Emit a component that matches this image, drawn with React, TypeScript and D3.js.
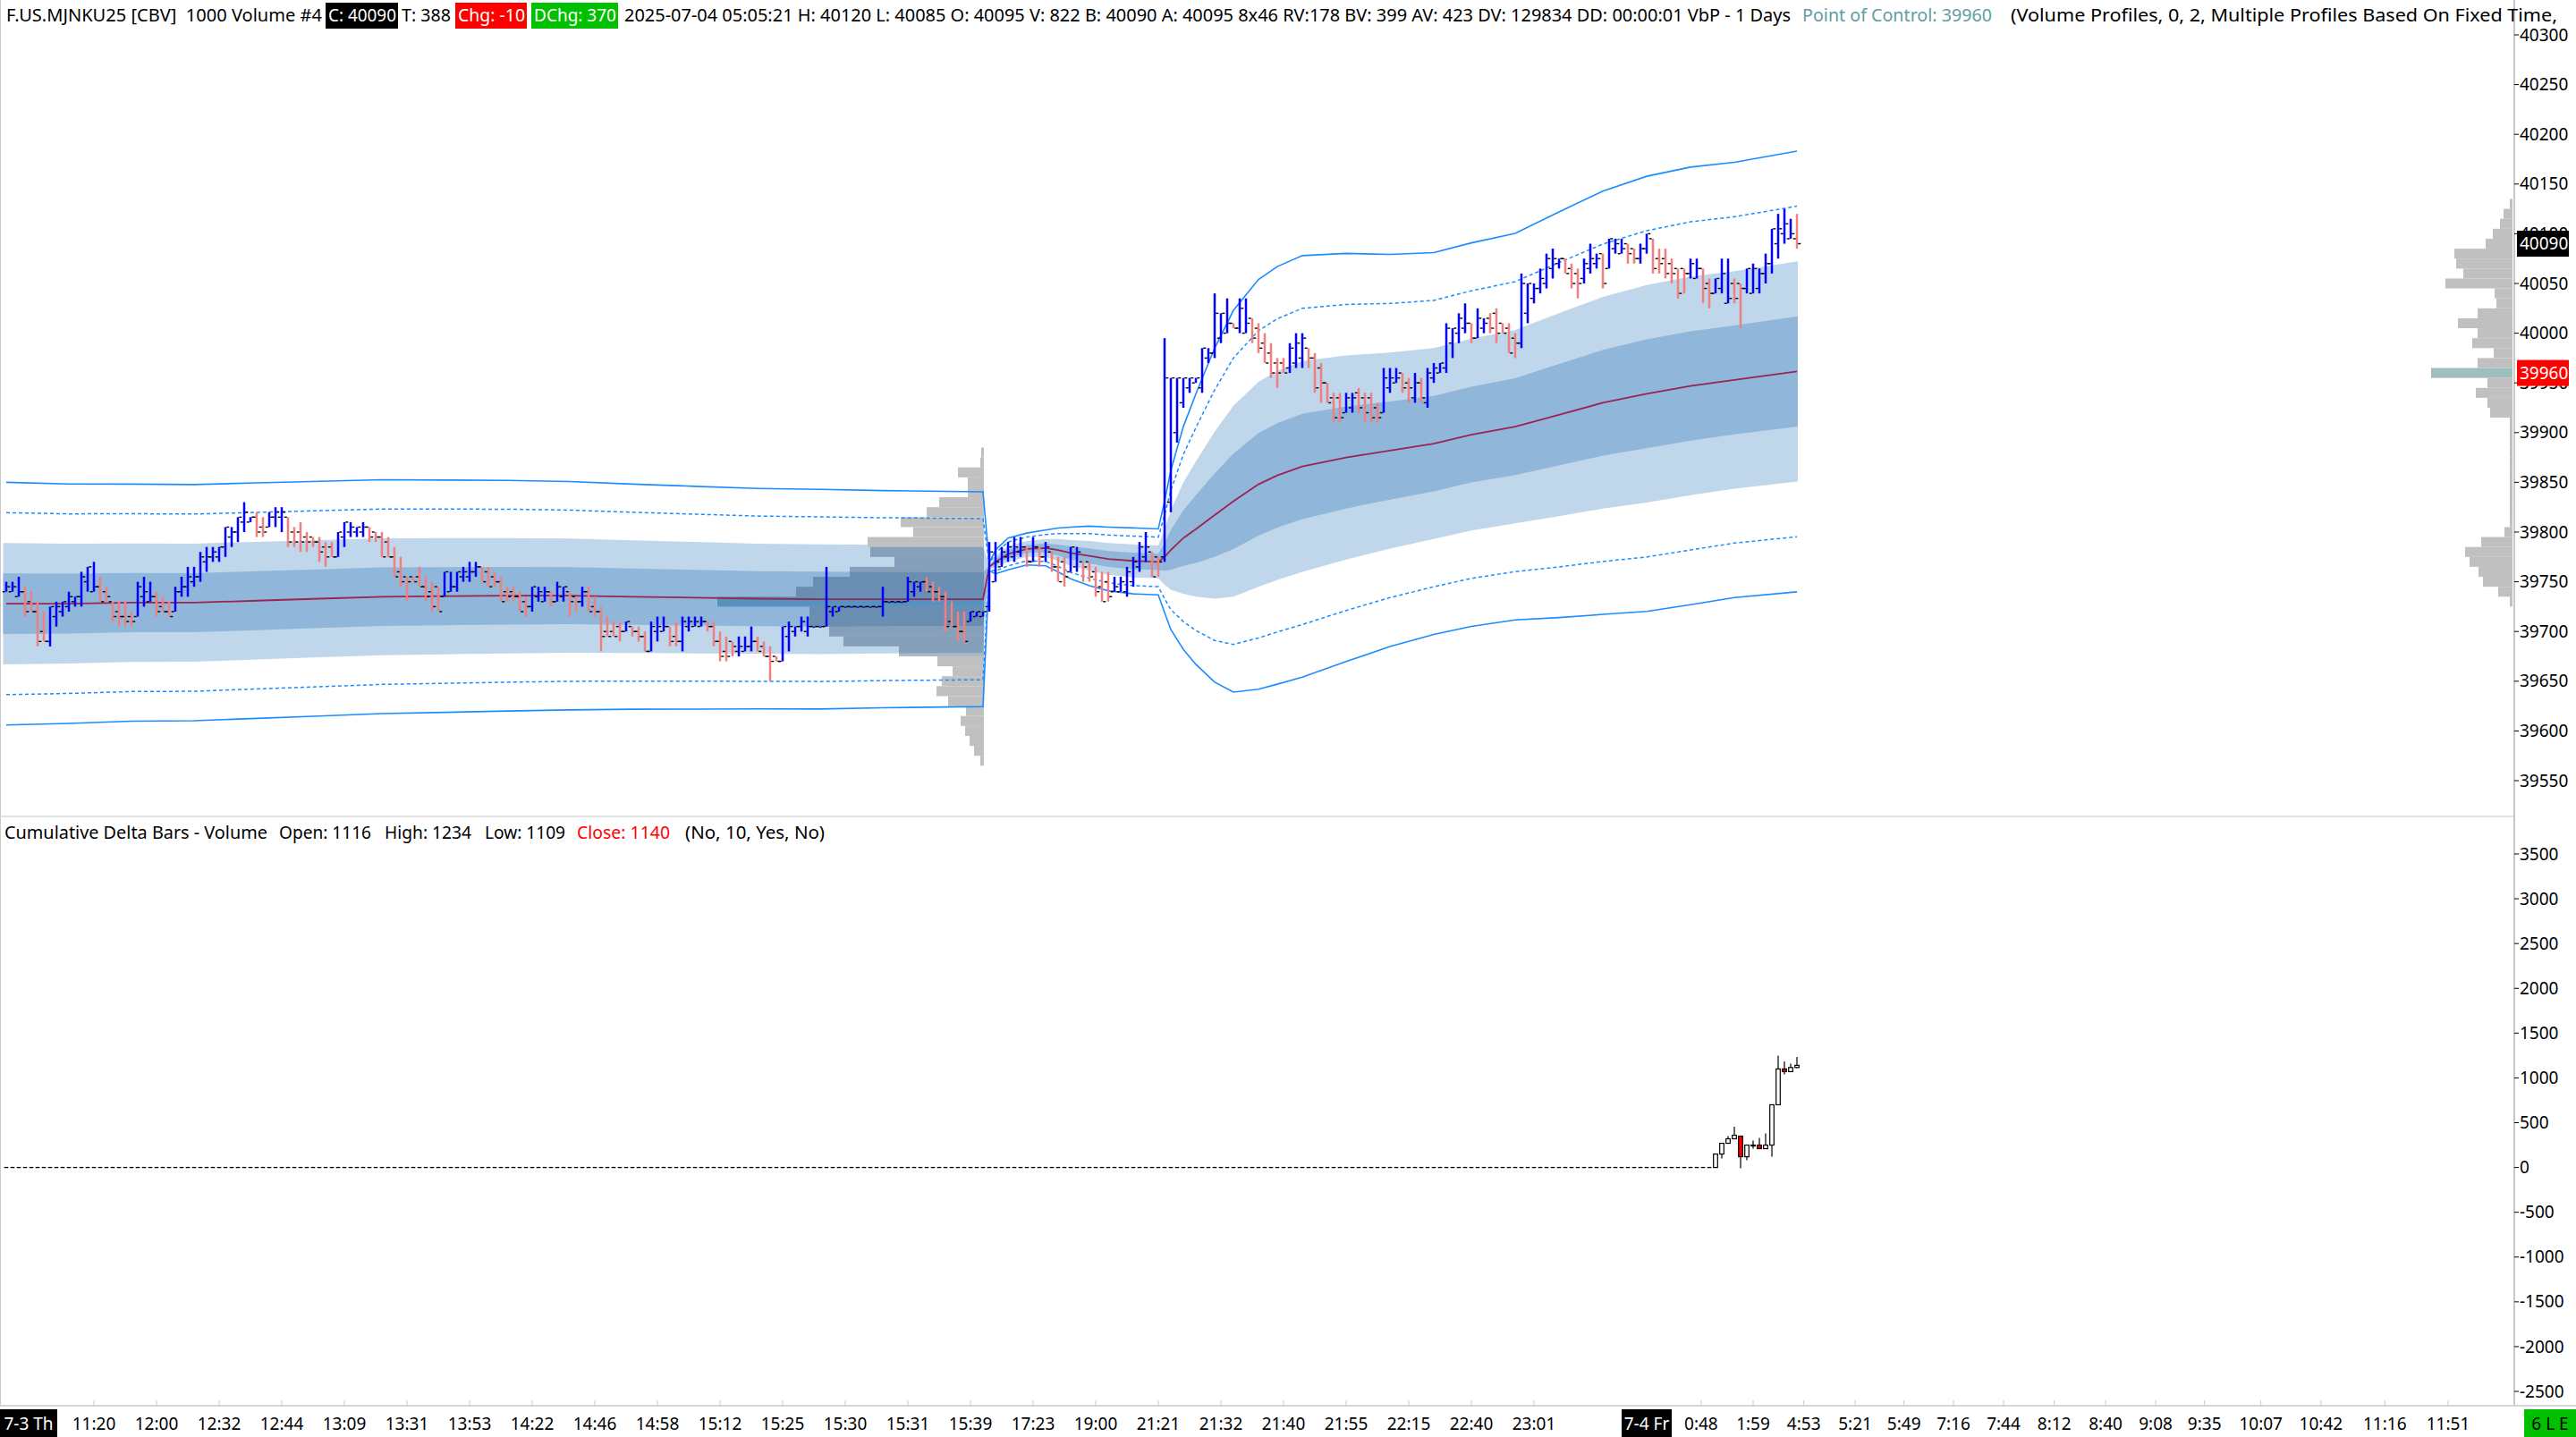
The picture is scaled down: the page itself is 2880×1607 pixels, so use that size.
import * as d3 from 'd3'
import React from 'react'

// 1000-volume OHLC bars, F.US.MJNKU25, left to right
const barOpen = [
  39740,39740,39735,39740,39730,39720,39700,39690,39715,39720,
  39725,39730,39735,39750,39740,39745,39740,39730,39720,39715,
  39715,39715,39735,39730,39735,39725,39720,39720,39740,39745,
  39750,39755,39770,39775,39775,39785,39795,39800,39810,39810,
  39815,39805,39805,39815,39815,39815,39800,39800,39795,39795,
  39790,39785,39785,39775,39795,39800,39800,39800,39805,39800,
  39795,39790,39775,39760,39755,39755,39755,39745,39740,39745,
  39735,39740,39745,39755,39755,39760,39765,39760,39755,39750,
  39740,39740,39735,39730,39725,39735,39730,39740,39730,39735,
  39740,39735,39730,39740,39725,39720,39700,39700,39705,39700,
  39705,39700,39695,39680,39700,39700,39705,39695,39690,39705,
  39705,39705,39710,39705,39690,39680,39690,39680,39680,39685,
  39690,39685,39675,39675,39670,39695,39700,39705,39700,39705,
  39705,39705,39720,39720,39725,39725,39725,39725,39725,39725,
  39725,39730,39730,39730,39730,39740,39745,39750,39745,39740,
  39735,39710,39705,39700,39710,39715,39715,39725,39750,39765,
  39775,39775,39780,39785,39770,39785,39775,39780,39765,39770,
  39760,39765,39770,39770,39760,39745,39750,39740,39740,39740,
  39750,39765,39775,39780,39775,39775,39830,39900,39930,39945,
  39950,39945,39975,39980,39995,40000,40010,40005,40000,40015,
  40005,39990,39980,39970,39970,39965,39970,39975,39985,39975,
  39965,39950,39935,39935,39920,39925,39940,39935,39935,39925,
  39920,39945,39950,39960,39950,39935,39950,39930,39955,39960,
  39965,39990,40000,40005,40010,39995,40005,40015,40020,40010,
  40005,39995,39990,40020,40035,40045,40050,40065,40070,40075,
  40065,40060,40055,40065,40070,40080,40065,40085,40080,40090,
  40085,40075,40085,40095,40075,40075,40070,40065,40065,40060,
  40055,40065,40050,40040,40045,40030,40050,40050,40045,40040,
  40045,40060,40070,40090,40100,40095,40095,
]
const barHigh = [
  39750,39750,39755,39745,39740,39730,39720,39725,39730,39730,
  39740,39735,39760,39765,39770,39755,39745,39730,39730,39730,
  39720,39750,39755,39750,39740,39735,39730,39745,39755,39765,
  39765,39780,39785,39785,39785,39805,39805,39815,39830,39815,
  39820,39815,39820,39825,39825,39815,39805,39810,39800,39795,
  39795,39790,39790,39800,39810,39810,39805,39810,39805,39800,
  39800,39795,39785,39775,39755,39755,39765,39755,39750,39745,
  39760,39760,39760,39765,39770,39770,39765,39765,39760,39755,
  39745,39745,39740,39735,39745,39745,39745,39740,39750,39745,
  39740,39735,39745,39745,39735,39725,39715,39710,39710,39710,
  39705,39705,39700,39710,39715,39715,39705,39710,39715,39715,
  39715,39715,39710,39710,39700,39695,39690,39695,39695,39705,
  39695,39690,39685,39675,39705,39710,39705,39715,39715,39705,
  39705,39765,39725,39725,39725,39725,39725,39725,39725,39725,
  39745,39730,39730,39730,39755,39750,39750,39755,39750,39745,
  39740,39730,39720,39720,39720,39720,39720,39790,39790,39785,
  39790,39795,39795,39785,39795,39785,39790,39780,39775,39775,
  39785,39785,39770,39770,39765,39760,39760,39755,39755,39765,
  39775,39790,39800,39780,39775,39995,39955,39955,39955,39955,
  39955,39985,39985,40040,40020,40035,40010,40035,40035,40015,
  40010,40000,39990,39975,39975,39990,40000,40000,39985,39980,
  39970,39950,39940,39940,39940,39940,39945,39940,39940,39930,
  39965,39965,39965,39960,39955,39960,39955,39965,39970,39970,
  40010,40005,40020,40030,40010,40025,40015,40020,40025,40010,
  40010,40000,40060,40050,40050,40065,40080,40085,40075,40075,
  40070,40065,40075,40090,40080,40080,40095,40095,40095,40090,
  40085,40090,40100,40095,40085,40085,40075,40065,40065,40075,
  40075,40065,40055,40055,40075,40075,40055,40050,40065,40070,
  40065,40080,40105,40120,40125,40115,40120,
]
const barLow = [
  39740,39740,39735,39715,39720,39685,39690,39685,39705,39715,
  39720,39725,39725,39740,39740,39730,39730,39710,39705,39705,
  39705,39715,39725,39730,39715,39720,39715,39720,39735,39735,
  39745,39750,39760,39770,39770,39775,39785,39790,39800,39810,
  39795,39795,39805,39805,39800,39785,39785,39780,39780,39785,
  39770,39765,39775,39775,39785,39795,39795,39795,39790,39790,
  39775,39775,39755,39745,39730,39750,39745,39730,39720,39720,
  39735,39740,39740,39750,39750,39755,39750,39745,39745,39730,
  39730,39730,39720,39715,39720,39730,39730,39725,39730,39730,
  39715,39720,39725,39720,39715,39680,39695,39695,39690,39700,
  39695,39690,39680,39680,39690,39700,39685,39685,39680,39700,
  39705,39705,39700,39685,39670,39670,39675,39675,39680,39680,
  39680,39675,39650,39670,39670,39680,39695,39700,39695,39705,
  39705,39705,39715,39720,39725,39725,39725,39725,39725,39725,
  39715,39730,39730,39730,39730,39735,39740,39740,39730,39730,
  39700,39705,39690,39690,39710,39715,39715,39720,39750,39765,
  39770,39770,39775,39765,39770,39765,39770,39760,39750,39745,
  39760,39760,39750,39750,39735,39730,39730,39740,39740,39735,
  39745,39760,39770,39755,39755,39770,39820,39890,39925,39940,
  39950,39940,39970,39975,39990,40000,40005,40000,40000,39990,
  39980,39970,39955,39945,39960,39960,39965,39965,39965,39940,
  39930,39930,39910,39910,39920,39920,39920,39910,39910,39910,
  39920,39940,39950,39940,39930,39930,39930,39925,39950,39960,
  39960,39975,39990,40000,39990,39995,40000,40000,39990,40000,
  39980,39975,39985,40010,40030,40040,40045,40055,40065,40060,
  40045,40035,40050,40060,40065,40045,40065,40080,40080,40070,
  40070,40070,40080,40060,40060,40055,40050,40035,40040,40055,
  40055,40030,40025,40040,40040,40030,40030,40005,40040,40040,
  40040,40050,40060,40075,40090,40095,40085,
]
const barClose = [
  39745,39745,39740,39720,39720,39690,39690,39725,39725,39730,
  39735,39735,39755,39765,39745,39730,39735,39715,39715,39710,
  39710,39745,39740,39735,39720,39720,39715,39740,39745,39755,
  39755,39775,39775,39780,39785,39805,39800,39815,39820,39815,
  39800,39800,39815,39820,39820,39790,39790,39790,39790,39790,
  39780,39775,39775,39800,39810,39805,39805,39805,39795,39795,
  39775,39775,39755,39750,39750,39750,39745,39735,39725,39720,
  39760,39745,39760,39760,39760,39765,39750,39745,39750,39730,
  39735,39735,39720,39725,39745,39740,39740,39730,39745,39745,
  39730,39730,39740,39720,39720,39695,39695,39695,39700,39710,
  39700,39695,39680,39705,39705,39705,39690,39690,39710,39710,
  39710,39710,39705,39690,39675,39675,39685,39685,39685,39690,
  39680,39675,39670,39670,39705,39705,39705,39710,39705,39705,
  39705,39725,39725,39725,39725,39725,39725,39725,39725,39725,
  39730,39730,39730,39730,39750,39750,39750,39740,39740,39735,
  39705,39705,39700,39690,39720,39720,39720,39780,39770,39780,
  39785,39785,39785,39770,39785,39775,39785,39765,39750,39755,
  39785,39780,39765,39755,39740,39730,39735,39745,39750,39760,
  39770,39785,39785,39755,39770,39955,39955,39955,39955,39955,
  39955,39985,39980,40020,40020,40010,40005,40025,40010,39995,
  39985,39970,39960,39960,39960,39985,39990,39995,39975,39945,
  39950,39930,39915,39915,39935,39935,39925,39920,39915,39915,
  39955,39955,39955,39945,39945,39950,39935,39960,39965,39970,
  40005,40005,40015,40010,39995,40015,40010,40005,40000,40000,
  39980,39990,40050,40050,40045,40055,40075,40075,40075,40060,
  40050,40050,40070,40075,40075,40050,40095,40090,40085,40080,
  40075,40085,40100,40065,40070,40060,40060,40040,40060,40070,
  40065,40045,40040,40055,40060,40035,40035,40045,40065,40065,
  40060,40070,40105,40105,40110,40100,40090,
]

// VWAP and standard deviation read at these bar positions (two sessions)
const bandBar = [
  0,10,20,30,40,50,60,70,80,90,100,110,120,130,140,150,156,
  157,158,160,163,166,168,170,173,176,180,184,
  185,186,187,188,190,193,196,200,203,207,214,221,228,234,241,248,255,262,269,276,286,
]
const vwapValue = [
  39728,39728,39729,39729,39731,39733,39735,39735.5,39736,39736,39735,39734,39733,39732.5,39732.5,39732.5,39732.5,
  39765,39770,39778,39783,39784,39782,39779,39776,39773,39771,39770,
  39775,39782,39788,39794,39803,39817,39831,39848,39857,39866,39875,39882,39889,39898,39906,39918,39930,39939,39947,39953,39961.5,
]
const sigmaValue = [
  30.5,30.1,29.8,29.7,29.6,29.5,29.4,29.2,29,28.7,28.3,28,27.7,27.6,27.3,27.1,27,
  1,3,4,4,4.5,5.5,6.5,7.5,8,8.3,8.3,
  14,20,24,28,34,42,48,51.5,52.5,53,51.3,49.3,48,48.2,48.6,51,53.2,54.7,55,54.7,55.4,
]

// volume profile of the 7-3 day session
const profileAPrice = [
  39880,39870,39860,39850,39840,39830,39820,39810,39800,39790,39780,39770,39760,39750,39740,39730,
  39720,39710,39700,39690,39680,39670,39660,39650,39640,39630,39620,39610,39600,39590,39580,39570,
]
const profileAVolume = [
  30,40,290,180,180,500,640,930,790,1300,1270,1000,1500,1910,2100,2980,
  1950,1950,1730,1570,950,520,350,470,530,400,200,260,210,160,110,40,
]
const valueAreaA = [39680, 39780]
const pocA = 39730

// volume profile of the current session
const profileBPrice = [
  40130,40120,40110,40100,40090,40080,40070,40060,40050,40040,40030,40020,40010,40000,39990,39980,
  39970,39960,39950,39940,39930,39920,39910,39900,39890,39880,39870,39860,39850,39840,39830,39820,
  39810,39800,39790,39780,39770,39760,39750,39740,39730,
]
const profileBVolume = [
  30,100,140,220,300,650,630,550,750,200,180,390,610,390,450,210,
  390,910,280,410,280,250,30,30,30,30,30,30,30,30,30,30,
  30,90,350,530,480,380,330,160,30,
]
const pocB = 39960

// cumulative delta bars (flat until bar 273)
const deltaOpen = [...Array(273).fill(0), 0,150,270,320,350,120,250,250,210,250,700,1100,1070,1116]
const deltaHigh = [...Array(273).fill(0), 150,270,350,455,350,250,300,330,380,700,1250,1185,1160,1234]
const deltaLow = [...Array(273).fill(0), 0,100,270,320,-10,80,210,210,210,120,700,1040,1070,1109]
const deltaClose = [...Array(273).fill(0), 150,270,320,360,120,250,250,210,250,700,1100,1070,1116,1140]

const priceTicks = [40300,40250,40200,40150,40100,40050,40000,39950,39900,39850,39800,39750,39700,39650,39600,39550]
const deltaTicks = [3500,3000,2500,2000,1500,1000,500,0,-500,-1000,-1500,-2000,-2500]
const timeLabel = [
  '11:20','12:00','12:32','12:44','13:09','13:31','13:53','14:22','14:46','14:58','15:12','15:25',
  '15:30','15:31','15:39','17:23','19:00','21:21','21:32','21:40','21:55','22:15','22:40','23:01',
  '0:48','1:59','4:53','5:21','5:49','7:16','7:44','8:12','8:40','9:08','9:35','10:07','10:42','11:16','11:51',
]
const timeAt = [
  14,24,34,44,54,64,74,84,94,104,114,124,
  134,144,154,164,174,184,194,204,214,224,234,244,
  270.7,279,287.1,295.3,303.1,311,319,327.1,335.3,343.3,351.1,360.1,369.7,379.9,390,
]
const dayLabel = ['7-3 Th', '7-4 Fr']
const dayAt = [3.6, 262]

const FONT = '"Noto Sans", "Open Sans", sans-serif'
const UP = '#0000ff'
const DOWN = '#f08080'

const x = d3.scaleLinear().domain([0, 286]).range([7, 2009])
const y = d3.scaleLinear().domain([39550, 40300]).range([873, 39])
const yd = d3.scaleLinear().domain([-2500, 3500]).range([1556, 955])
const volW = d3.scaleLinear().domain([0, 1000]).range([0, 100])

const AXIS_X = 2811

function Txt({ x0, x1, yc, t, fill = '#000', size = 20 }: any) {
  return (
    <text x={x0} y={yc} dy="0.35em" fontSize={size} fill={fill}
      textLength={x1 - x0} lengthAdjust="spacingAndGlyphs" style={{ whiteSpace: 'pre' }}>
      {t}
    </text>
  )
}

export default function App() {
  const last = barClose.length - 1
  const K = d3.range(bandBar.length)
  const bx = (k: number) => (k === 0 ? x(bandBar[k]) - 3.5 : k === K.length - 1 ? x(bandBar[k]) + 1 : x(bandBar[k]))
  const bandArea = (m: number) =>
    d3.area<number>().x(bx)
      .y0((k) => y(vwapValue[k] - m * sigmaValue[k]))
      .y1((k) => y(vwapValue[k] + m * sigmaValue[k]))(K) as string
  const bandLine = (m: number) =>
    d3.line<number>().x((k) => x(bandBar[k])).y((k) => y(vwapValue[k] + m * sigmaValue[k]))(K) as string

  const binH = y(0) - y(10)
  const profARight = x(156) + 1
  const profBRight = AXIS_X - 2

  const chg = barClose[last] - barClose[last - 1]
  const dl = deltaClose.length - 1

  const header = [
    { t: 'F.US.MJNKU25 [CBV]  1000 Volume #4', x0: 7, x1: 360 },
    { t: `C: ${barClose[last]}`, x0: 367, x1: 443, fill: '#fff', bg: '#000', b0: 364, b1: 445 },
    { t: 'T: 388', x0: 449, x1: 504 },
    { t: `Chg: ${chg}`, x0: 512, x1: 587, fill: '#fff', bg: '#ff0000', b0: 509, b1: 589 },
    { t: 'DChg: 370', x0: 597, x1: 689, fill: '#fff', bg: '#00c000', b0: 594, b1: 691 },
    {
      t: `2025-07-04 05:05:21 H: ${barHigh[last]} L: ${barLow[last]} O: ${barOpen[last]} V: 822 B: 40090 A: 40095 8x46 RV:178 BV: 399 AV: 423 DV: 129834 DD: 00:00:01 VbP - 1 Days`,
      x0: 698, x1: 2002,
    },
    { t: `Point of Control: ${pocB}`, x0: 2015, x1: 2227, fill: '#5f9ea0' },
    { t: '(Volume Profiles, 0, 2, Multiple Profiles Based On Fixed Time,', x0: 2248, x1: 2859 },
  ]

  const lower = [
    { t: 'Cumulative Delta Bars - Volume', x0: 5, x1: 299 },
    { t: `Open: ${deltaOpen[dl]}`, x0: 312, x1: 415 },
    { t: `High: ${deltaHigh[dl]}`, x0: 430, x1: 527 },
    { t: `Low: ${deltaLow[dl]}`, x0: 542, x1: 632 },
    { t: `Close: ${deltaClose[dl]}`, x0: 645, x1: 749, fill: '#ff0000' },
    { t: '(No, 10, Yes, No)', x0: 766, x1: 922 },
  ]

  return (
    <svg width={2880} height={1607} style={{ position: 'absolute', left: 0, top: 0, display: 'block' }}
      fontFamily={FONT}>
      <rect width={2880} height={1607} fill="#fff" />

      {/* VWAP std dev bands */}
      <path d={bandArea(2)} fill="#c0d6eb" />
      <path d={bandArea(1)} fill="#90b6da" />

      {/* 7-3 session profile */}
      {profileAPrice.map((p, i) => {
        const w = volW(profileAVolume[i])
        const inVA = p >= valueAreaA[0] && p <= valueAreaA[1]
        const fill = p === pocA ? 'rgba(40,115,165,0.55)' : inVA ? 'rgba(55,85,125,0.42)' : '#c0c0c0'
        return <rect key={'pa' + i} x={profARight - w} y={y(p + 5)} width={w} height={binH} fill={fill} />
      })}

      {/* current session profile */}
      {profileBPrice.map((p, i) => {
        const w = volW(profileBVolume[i])
        return (
          <rect key={'pb' + i} x={profBRight - w} y={y(p + 5)} width={w} height={binH}
            fill={p === pocB ? '#9fbfbf' : '#c0c0c0'} />
        )
      })}

      {/* band lines */}
      <path d={bandLine(4)} fill="none" stroke="#1a8cff" strokeWidth={1.6} />
      <path d={bandLine(-4)} fill="none" stroke="#1a8cff" strokeWidth={1.6} />
      <path d={bandLine(3)} fill="none" stroke="#1a8cff" strokeWidth={1.5} strokeDasharray="4 3" />
      <path d={bandLine(-3)} fill="none" stroke="#1a8cff" strokeWidth={1.5} strokeDasharray="4 3" />
      <path d={bandLine(0)} fill="none" stroke="#9b2450" strokeWidth={1.8} />

      {/* OHLC bars */}
      {barClose.map((c, i) => {
        const o = barOpen[i]
        const cx = x(i)
        const top = y(barHigh[i])
        const h = Math.max(y(barLow[i]) - top, 1.5)
        return (
          <g key={'b' + i}>
            <rect x={cx - 1.25} y={top} width={2.5} height={h} fill={c >= o ? UP : DOWN} />
            <rect x={cx - 4.25} y={y(o) - 0.7} width={3} height={1.4} fill="#000" />
            <rect x={cx + 1.25} y={y(c) - 0.7} width={3} height={1.4} fill="#000" />
          </g>
        )
      })}

      {/* frame */}
      <line x1={0.5} y1={0} x2={0.5} y2={1572} stroke="#c8c8c8" strokeWidth={1} />
      <line x1={0} y1={913} x2={AXIS_X} y2={913} stroke="#d8d8d8" strokeWidth={1.5} />
      <line x1={AXIS_X} y1={0} x2={AXIS_X} y2={1572} stroke="#c8c8c8" strokeWidth={2} />
      <line x1={0} y1={1572} x2={2880} y2={1572} stroke="#c8c8c8" strokeWidth={1.5} />

      {/* price axis */}
      {priceTicks.map((p) => (
        <g key={'pt' + p}>
          <line x1={AXIS_X} x2={AXIS_X + 5} y1={y(p)} y2={y(p)} stroke="#000" strokeWidth={1} />
          <text x={2817} y={y(p)} dy="0.35em" fontSize={19} fill="#000">{p}</text>
        </g>
      ))}
      <rect x={2814} y={y(barClose[last]) - 14.5} width={58} height={29} fill="#000" />
      <text x={2817} y={y(barClose[last])} dy="0.35em" fontSize={19} fill="#fff">{barClose[last]}</text>
      <rect x={2814} y={y(pocB) - 14.5} width={58} height={29} fill="#ff0000" />
      <text x={2817} y={y(pocB)} dy="0.35em" fontSize={19} fill="#fff">{pocB}</text>

      {/* cumulative delta pane */}
      {deltaTicks.map((v) => (
        <g key={'dt' + v}>
          <line x1={AXIS_X} x2={AXIS_X + 5} y1={yd(v)} y2={yd(v)} stroke="#000" strokeWidth={1} />
          <text x={2817} y={yd(v)} dy="0.35em" fontSize={19} fill="#000">{v}</text>
        </g>
      ))}
      {deltaClose.map((c, i) => {
        const o = deltaOpen[i]
        const cx = x(i)
        if (deltaHigh[i] === deltaLow[i]) {
          return <line key={'d' + i} x1={cx - 2.3} x2={cx + 2.3} y1={yd(c)} y2={yd(c)} stroke="#000" strokeWidth={1.3} />
        }
        const bt = yd(Math.max(o, c))
        const bh = Math.max(yd(Math.min(o, c)) - bt, 1)
        return (
          <g key={'d' + i}>
            <line x1={cx} x2={cx} y1={yd(deltaHigh[i])} y2={yd(deltaLow[i])} stroke="#000" strokeWidth={1.2} />
            <rect x={cx - 2.3} y={bt} width={4.6} height={bh} fill={c >= o ? '#fff' : '#ff0000'} stroke="#000" strokeWidth={1.2} />
          </g>
        )
      })}

      {/* header */}
      {header.map((s, i) => (
        <g key={'h' + i}>
          {s.bg && <rect x={s.b0} y={3} width={s.b1 - s.b0} height={29} fill={s.bg} />}
          <Txt x0={s.x0} x1={s.x1} yc={17} t={s.t} fill={s.fill || '#000'} size={20} />
        </g>
      ))}
      {lower.map((s, i) => (
        <Txt key={'l' + i} x0={s.x0} x1={s.x1} yc={931} t={s.t} fill={s.fill || '#000'} size={20} />
      ))}

      {/* time axis */}
      {timeLabel.map((t, i) => (
        <g key={'tl' + i}>
          <line x1={x(timeAt[i])} x2={x(timeAt[i])} y1={1566} y2={1572} stroke="#c8c8c8" strokeWidth={1} />
          <text x={x(timeAt[i])} y={1592} dy="0.35em" fontSize={19} textAnchor="middle" fill="#000">{t}</text>
        </g>
      ))}
      {dayLabel.map((t, i) => {
        const cx = i === 0 ? 32 : x(dayAt[i])
        const w = i === 0 ? 64 : 56
        return (
          <g key={'dl' + i}>
            <rect x={cx - w / 2} y={1576} width={w} height={31} fill="#000" />
            <text x={cx} y={1592} dy="0.35em" fontSize={19} textAnchor="middle" fill="#fff">{t}</text>
          </g>
        )
      })}
      <rect x={2822} y={1576} width={58} height={31} fill="#00c000" />
      <text x={2851} y={1592} dy="0.35em" fontSize={19} textAnchor="middle" fill="#000">6 L E</text>
    </svg>
  )
}
